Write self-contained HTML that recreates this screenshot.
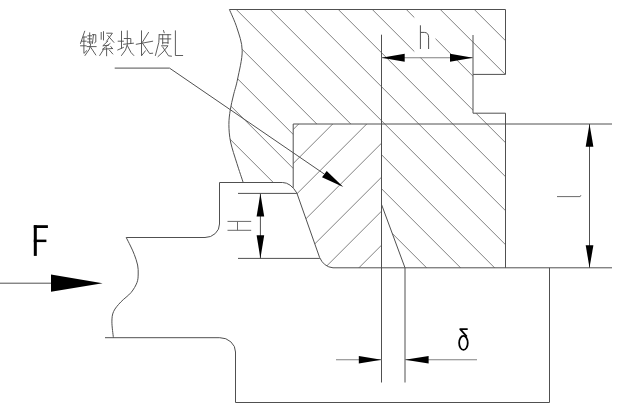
<!DOCTYPE html>
<html lang="zh"><head><meta charset="utf-8"><title>diagram</title>
<style>html,body{margin:0;padding:0;background:#fff;overflow:hidden}svg{display:block}body{font-family:"Liberation Sans",sans-serif}</style>
</head><body>
<svg width="617" height="416" viewBox="0 0 617 416">
<title>锲紧块长度L 示意图</title>
<desc>Wedge locking block diagram: labels 锲紧块长度L, F, H, h, L, δ</desc>
<defs>
<clipPath id="cu"><path d="M229.40,9.50 C230.65,12.55 234.77,20.95 236.90,27.80 C239.03,34.65 242.08,42.07 242.20,50.60 C242.32,59.13 239.05,71.60 237.60,79.00 C236.15,86.40 234.72,89.87 233.50,95.00 C232.28,100.13 231.07,104.87 230.30,109.80 C229.53,114.73 228.85,119.23 228.90,124.60 C228.95,129.97 229.27,135.53 230.60,142.00 C231.93,148.47 234.80,156.65 236.90,163.40 C239.00,170.15 242.15,179.32 243.20,182.50 L282.6,182.5 Q288,182.6 293.2,188 L293.2,124.0 L381.5,124.0 L381.5,204.4 L405.0,267.8 L505.5,267.8 L505.5,113.2 L473.0,113.2 L473.0,74.4 L505.5,74.4 L505.5,9.5 Z"/></clipPath>
<clipPath id="cw"><path d="M293.2,124.0 L381.5,124.0 L381.5,267.8 L333,267.8 Q324,267 319.6,257.5 L296.8,192.9 Q295,190 293.2,188 Z"/></clipPath>
</defs>
<rect width="617" height="416" fill="#fff"/>
<g stroke="#555555" stroke-width="0.75" fill="none" clip-path="url(#cu)">
<line x1="200.00" y1="177.20" x2="520.00" y2="497.20"/>
<line x1="200.00" y1="143.20" x2="520.00" y2="463.20"/>
<line x1="200.00" y1="109.20" x2="520.00" y2="429.20"/>
<line x1="200.00" y1="75.20" x2="520.00" y2="395.20"/>
<line x1="200.00" y1="41.20" x2="520.00" y2="361.20"/>
<line x1="200.00" y1="7.20" x2="520.00" y2="327.20"/>
<line x1="200.00" y1="-26.80" x2="520.00" y2="293.20"/>
<line x1="200.00" y1="-60.80" x2="520.00" y2="259.20"/>
<line x1="200.00" y1="-94.80" x2="520.00" y2="225.20"/>
<line x1="200.00" y1="-128.80" x2="520.00" y2="191.20"/>
<line x1="200.00" y1="-162.80" x2="520.00" y2="157.20"/>
<line x1="200.00" y1="-196.80" x2="520.00" y2="123.20"/>
<line x1="200.00" y1="-230.80" x2="520.00" y2="89.20"/>
<line x1="200.00" y1="-264.80" x2="520.00" y2="55.20"/>
<line x1="200.00" y1="-298.80" x2="520.00" y2="21.20"/>
</g>
<rect x="414.3" y="16" width="21.2" height="41.3" fill="#fff"/>
<g stroke="#555555" stroke-width="0.75" fill="none" clip-path="url(#cw)">
<line x1="280.00" y1="414.70" x2="390.00" y2="304.70"/>
<line x1="280.00" y1="380.70" x2="390.00" y2="270.70"/>
<line x1="280.00" y1="346.70" x2="390.00" y2="236.70"/>
<line x1="280.00" y1="312.70" x2="390.00" y2="202.70"/>
<line x1="280.00" y1="278.70" x2="390.00" y2="168.70"/>
<line x1="280.00" y1="244.70" x2="390.00" y2="134.70"/>
<line x1="280.00" y1="210.70" x2="390.00" y2="100.70"/>
<line x1="280.00" y1="176.70" x2="390.00" y2="66.70"/>
<line x1="280.00" y1="142.70" x2="390.00" y2="32.70"/>
<line x1="280.00" y1="108.70" x2="390.00" y2="-1.30"/>
<line x1="280.00" y1="74.70" x2="390.00" y2="-35.30"/>
</g>
<g stroke="#505050" stroke-width="1" fill="none" stroke-linecap="butt" stroke-linejoin="miter">
<!-- upper block -->
<path d="M229.40,9.50 C230.65,12.55 234.77,20.95 236.90,27.80 C239.03,34.65 242.08,42.07 242.20,50.60 C242.32,59.13 239.05,71.60 237.60,79.00 C236.15,86.40 234.72,89.87 233.50,95.00 C232.28,100.13 231.07,104.87 230.30,109.80 C229.53,114.73 228.85,119.23 228.90,124.60 C228.95,129.97 229.27,135.53 230.60,142.00 C231.93,148.47 234.80,156.65 236.90,163.40 C239.00,170.15 242.15,179.32 243.20,182.50"/>
<path d="M229.4,9.5 L505.5,9.5 L505.5,74.4 L473.0,74.4 L473.0,113.2 L505.5,113.2 L505.5,267.8"/>
<path d="M473.0,35 L473.0,74.4"/>
<!-- wedge -->
<path d="M293.2,187.8 L293.2,124.0 L612,124.0"/>
<path d="M381.5,34.7 L381.5,382.5"/>
<path d="M381.5,204.4 L405.0,267.8 L405.0,382.5"/>
<!-- slider / left part -->
<path d="M612,267.8 L333,267.8 Q324,267 319.6,257.5 L296.8,192.9 Q290.5,182.6 282.6,182.5 L219.5,182.5 L219.5,224 A14.5,13.5 0 0 1 205,237.5 L126.2,237.5"/>
<path d="M126.20,237.50 C126.92,238.92 129.15,243.17 130.50,246.00 C131.85,248.83 133.12,251.33 134.30,254.50 C135.48,257.67 136.95,261.75 137.60,265.00 C138.25,268.25 138.30,271.08 138.20,274.00 C138.10,276.92 138.18,279.42 137.00,282.50 C135.82,285.58 133.80,289.25 131.10,292.50 C128.40,295.75 123.72,298.83 120.80,302.00 C117.88,305.17 115.08,308.18 113.60,311.50 C112.12,314.82 111.93,317.53 111.90,321.90 C111.87,326.27 113.15,335.07 113.40,337.70"/>
<path d="M105,337.7 L219.8,337.7 A15.7,14.3 0 0 1 235.5,352 L235.5,402.5 L549.5,402.5 L549.5,267.8"/>
<!-- dimension ext lines -->
<path d="M238,193.4 L296.8,193.4"/>
<path d="M238,258.4 L319.8,258.4"/>
<path d="M260.4,193.4 L260.4,258.4"/>
<path stroke="#808080" d="M381.5,57.75 L473.0,57.75"/>
<path d="M589.5,124.0 L589.5,267.8"/>
<path stroke="#808080" d="M336,359.75 L381.5,359.75"/>
<path stroke="#808080" d="M405.0,359.75 L477,359.75"/>
<!-- leader -->
<path stroke-linejoin="round" d="M114.7,68.1 L169.5,68.1 L324.4,174.1"/>
<!-- F line -->
<path d="M0,283.2 L52,283.2"/>
<!-- H label (rotated) -->
<path stroke="#6a6a6a" d="M227.5,221.4 L251.2,221.4 M227.5,230.3 L251.2,230.3 M237.5,221.4 L237.5,230.3"/>
<!-- L label (rotated) -->
<path stroke="#6a6a6a" d="M557,196.6 L580.2,196.6 L580.9,195.2"/>
<!-- h label -->
<path stroke-linejoin="round" d="M420.4,25.3 L420.4,49 M420.4,32.4 L424.3,32.4 C427.2,32.5 428.6,34.2 428.6,37.2 L428.6,49"/>
</g>
<!-- arrows -->
<g fill="#000" stroke="none">
<polygon points="381.5,57.75 404.7,53.8 404.7,61.7"/>
<polygon points="473.0,57.75 450,53.8 450,61.7"/>
<polygon points="589.5,124.0 585.7,146.7 593.4,146.7"/>
<polygon points="589.5,267.8 585.7,245.3 593.4,245.3"/>
<polygon points="260.4,193.4 256.6,216.4 264.2,216.4"/>
<polygon points="260.4,258.4 256.6,235.2 264.2,235.2"/>
<polygon points="381.5,359.75 358.8,355.9 358.8,363.6"/>
<polygon points="405.0,359.75 428.6,355.9 428.6,363.6"/>
<polygon points="343.3,186.9 326.7,171 322,177.2"/>
<polygon points="102.6,283.2 51,274.6 51,291.7"/>
</g>
<!-- F -->
<g fill="#000" stroke="none">
<rect x="33.8" y="225.2" width="3" height="30.7"/>
<rect x="33.8" y="225.2" width="14.1" height="2.8"/>
<rect x="33.8" y="239.6" width="12.6" height="2.5"/>
</g>
<!-- delta -->
<g stroke="#000" stroke-width="1.8" fill="none" stroke-linejoin="round">
<path d="M467.7,329.1 L460.2,329.1 L466.8,336.6"/>
<ellipse cx="463.45" cy="342.9" rx="4.3" ry="7"/>
</g>
<!-- CJK text drawn as strokes -->
<g stroke="#4c4c4c" stroke-width="0.9" fill="none" stroke-linecap="round" stroke-linejoin="round">
<path d="M84.7,31.2 L80.5,43.5"/>
<path d="M83.5,37 L86.6,37"/>
<path d="M81.6,41.2 L86.2,41.2"/>
<path d="M80.5,45.8 L86.2,45.8"/>
<path d="M83.9,37 L83.9,53.4 L86.8,50.6"/>
<path d="M89.7,32.8 L89.7,43.5"/>
<path d="M87.8,35.8 L91.6,35.8"/>
<path d="M87.8,38.9 L91.6,38.9"/>
<path d="M87.4,42 L92,42"/>
<path d="M92.4,34.7 L95.8,34.7 L95.8,42 L94.6,42.8"/>
<path d="M93.5,34.7 L92.4,43.5"/>
<path d="M87,46.6 L96.2,46.6"/>
<path d="M90.8,43.5 L89.5,49 L85,55.5"/>
<path d="M90.8,47.4 L95.8,55"/>
<path d="M101.2,32.4 L101.2,39.3"/>
<path d="M103.5,31.6 L103.5,40"/>
<path d="M106.6,33.2 L112.4,33.2 L106.6,41.2"/>
<path d="M107.8,35.5 L113.9,42.4"/>
<path d="M107.8,41.2 L102.8,45.8 L108.5,45.2"/>
<path d="M110.1,43.5 L102.4,49.3 L112.4,48.5"/>
<path d="M110.8,46.5 L112.6,48.8"/>
<path d="M106.6,47.8 L106.6,55.8"/>
<path d="M103.2,50 L99.7,55.5"/>
<path d="M109.3,50 L112.8,54"/>
<path d="M121.5,31.2 L121.5,48.2"/>
<path d="M118.1,41.2 L123.5,41.2"/>
<path d="M117.7,50 L123.5,47.4"/>
<path d="M127.3,30.8 L127.3,44.7 L125.5,50 L121.5,55.5"/>
<path d="M124.2,38.5 L130.8,38.5 L130.8,43.5"/>
<path d="M123.5,44.3 L133.5,43.2"/>
<path d="M127.3,45.5 L131,52.5 L133.8,55.5"/>
<path d="M141.5,30.8 L141.5,55.8 L145.4,50.8"/>
<path d="M148.5,32.4 L142.3,42.4"/>
<path d="M136.2,44.3 L152.7,41.2"/>
<path d="M142.7,43.5 L149.6,53.5 L152.7,53.2"/>
<path d="M163.5,30.5 L164.2,32.8"/>
<path d="M159.2,34.7 L170.8,34.7"/>
<path d="M159.2,34.7 L158.8,42.4 L155.4,55.5"/>
<path d="M162.7,34.7 L162.7,44"/>
<path d="M168,34.7 L168,43.5"/>
<path d="M160,38.9 L170.8,38.9"/>
<path d="M162.7,42.8 L168,42.8"/>
<path d="M161.5,45.8 L168,45.8 L163,52 L158,56.6"/>
<path d="M162.7,47 L168.5,55.8 L171.5,56.2"/>
<path d="M175.4,30.8 L175.4,55.5 L182.7,55.5"/>
</g>
</svg>
</body></html>
